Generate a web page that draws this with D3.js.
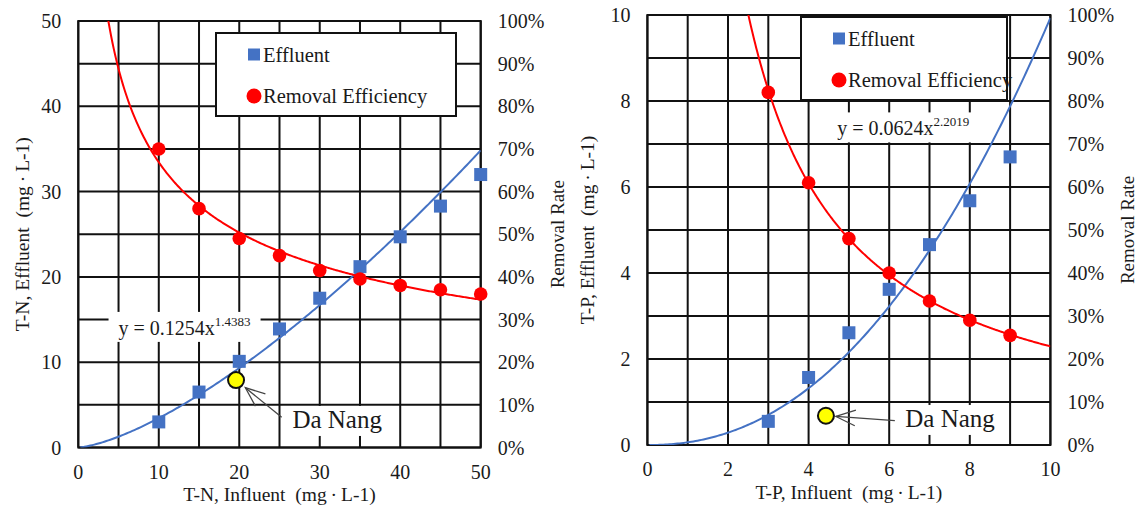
<!DOCTYPE html>
<html><head><meta charset="utf-8">
<script src="https://cdn.jsdelivr.net/npm/d3@7"></script>
<style>
body{margin:0;background:#fff}
text{font-family:"Liberation Serif","Times New Roman",serif;fill:#1a1a1a}
</style>
</head><body>
<svg id="c" width="1142" height="506"></svg>
<script>
// ---------- data ----------
const tnInfluent = [10, 15, 20, 25, 30, 35, 40, 45, 50];
const tnEffluent = [3.0, 6.5, 10.1, 13.9, 17.5, 21.2, 24.7, 28.3, 32.0];
const tnRemoval  = [0.70, 0.56, 0.49, 0.45, 0.415, 0.395, 0.38, 0.37, 0.36];
const tnFitCoef  = [0.1254, 1.4383];
const tnDaNang   = [19.6, 7.9];
const tnXTicks   = [0, 10, 20, 30, 40, 50];
const tnYTicks   = [0, 10, 20, 30, 40, 50];

const tpInfluent = [3, 4, 5, 6, 7, 8, 9];
const tpEffluent = [0.55, 1.57, 2.61, 3.62, 4.66, 5.68, 6.70];
const tpRemoval  = [0.82, 0.61, 0.48, 0.40, 0.335, 0.29, 0.255];
const tpFitCoef  = [0.0624, 2.2019];
const tpDaNang   = [4.43, 0.68];
const tpXTicks   = [0, 2, 4, 6, 8, 10];
const tpYTicks   = [0, 2, 4, 6, 8, 10];

const pctTicks   = [0, 0.1, 0.2, 0.3, 0.4, 0.5, 0.6, 0.7, 0.8, 0.9, 1.0];
const legendLabels = ["Effluent", "Removal Efficiency"];
const labelDaNang = "Da Nang";
const tnXTitle = "T-N, Influent  (mg\u2009\u00B7\u2009L-1)";
const tnYTitle = "T-N, Effluent  (mg\u2009\u00B7\u2009L-1)";
const tpXTitle = "T-P, Influent  (mg\u2009\u00B7\u2009L-1)";
const tpYTitle = "T-P, Effluent  (mg\u2009\u00B7\u2009L-1)";

const BLUE = "#4472C4", RED = "#FF0000", GRID = "#111";

const svg = d3.select("#c");

// least-squares power fit (as a spreadsheet power trendline does)
function powerFit(xs, ys) {
  const lx = xs.map(Math.log), ly = ys.map(Math.log);
  const mx = d3.mean(lx), my = d3.mean(ly);
  let sxy = 0, sxx = 0;
  lx.forEach((v, i) => { sxy += (v - mx) * (ly[i] - my); sxx += (v - mx) * (v - mx); });
  const b = sxy / sxx;
  return [Math.exp(my - b * mx), b];
}

function panel(cfg, idx) {
  const {xs, eff, rem, coef, dn, xDom, yDom, xr, yr, xStep, yStep, xTicks, yTicks} = cfg;
  const x = d3.scaleLinear().domain(xDom).range(xr);
  const y = d3.scaleLinear().domain(yDom).range(yr);
  const y2 = d3.scaleLinear().domain([0, 1]).range(yr);
  const g = svg.append("g");

  const clipId = "clip" + idx;
  g.append("clipPath").attr("id", clipId).append("rect")
    .attr("x", xr[0]).attr("y", yr[1]).attr("width", xr[1] - xr[0]).attr("height", yr[0] - yr[1]);

  // grid
  const gx = d3.range(xDom[0], xDom[1] + 1e-9, xStep);
  const gy = d3.range(yDom[0], yDom[1] + 1e-9, yStep);
  g.append("g").selectAll("line").data(gx).join("line")
    .attr("x1", d => x(d)).attr("x2", d => x(d)).attr("y1", yr[0]).attr("y2", yr[1])
    .attr("stroke", GRID).attr("stroke-width", 2);
  g.append("g").selectAll("line").data(gy).join("line")
    .attr("y1", d => y(d)).attr("y2", d => y(d)).attr("x1", xr[0]).attr("x2", xr[1])
    .attr("stroke", GRID).attr("stroke-width", 2);
  g.append("rect").attr("x", xr[0]).attr("y", yr[1]).attr("width", xr[1] - xr[0])
    .attr("height", yr[0] - yr[1]).attr("fill", "none").attr("stroke", GRID).attr("stroke-width", 2);

  // tick labels
  g.append("g").selectAll("text").data(xTicks).join("text")
    .attr("x", d => x(d)).attr("y", yr[0] + 24).attr("dy", "0.35em")
    .attr("text-anchor", "middle").attr("font-size", 20).text(d => d);
  g.append("g").selectAll("text").data(yTicks).join("text")
    .attr("x", xr[0] - 17).attr("y", d => y(d)).attr("dy", "0.35em")
    .attr("text-anchor", "end").attr("font-size", 20).text(d => d);
  g.append("g").selectAll("text").data(pctTicks).join("text")
    .attr("x", xr[1] + 17).attr("y", d => y2(d)).attr("dy", "0.35em")
    .attr("text-anchor", "start").attr("font-size", 20).text(d => Math.round(d * 100) + "%");

  // axis titles
  const cx = (xr[0] + xr[1]) / 2, cy = (yr[0] + yr[1]) / 2;
  g.append("text").attr("x", cx).attr("y", yr[0] + 47).attr("dy", "0.35em")
    .attr("text-anchor", "middle").attr("font-size", 19.5).style("white-space", "pre")
    .text(cfg.xTitle);
  g.append("text").attr("transform", `translate(${cfg.yTitleX},${cy}) rotate(-90)`)
    .attr("dy", "0.35em").attr("text-anchor", "middle").attr("font-size", 19.5)
    .style("white-space", "pre").text(cfg.yTitle);
  g.append("text").attr("transform", `translate(${xr[1] + 77},${cy}) rotate(-90)`)
    .attr("dy", "0.35em").attr("text-anchor", "middle").attr("font-size", 19)
    .text("Removal Rate");

  // equation label (white box)
  const eq = g.append("text").attr("x", x(cfg.eqPos[0])).attr("y", y(cfg.eqPos[1]))
    .attr("font-size", 20);
  eq.append("tspan").text(`y = ${coef[0]}x`);
  eq.append("tspan").attr("dy", -9).attr("font-size", 13).text(coef[1]);
  const eb = eq.node().getBBox();
  g.insert("rect", () => eq.node()).attr("x", eb.x - 10).attr("y", eb.y - 2)
    .attr("width", eb.width + 20).attr("height", eb.height + 4).attr("fill", "#fff");

  // curves
  const curves = g.append("g").attr("clip-path", `url(#${clipId})`);
  const line = d3.line();
  const bx = d3.range(201).map(i => xDom[0] + (xDom[1] - xDom[0]) * (i + 1) / 201);
  curves.append("path").attr("d", line(bx.map(v => [x(v), y(coef[0] * Math.pow(v, coef[1]))])))
    .attr("fill", "none").attr("stroke", BLUE).attr("stroke-width", 2);
  const rf = powerFit(xs, rem);
  const xRedStart = Math.pow(1.05 / rf[0], 1 / rf[1]);
  const redXs = d3.range(300).map(i => xRedStart + (xDom[1] - xRedStart) * i / 299);
  curves.append("path").attr("d", line(redXs.map(v => [x(v), y2(rf[0] * Math.pow(v, rf[1]))])))
    .attr("fill", "none").attr("stroke", RED).attr("stroke-width", 2);

  // points
  const s = 13;
  g.append("g").selectAll("rect").data(xs).join("rect")
    .attr("x", d => x(d) - s / 2).attr("y", (d, i) => y(eff[i]) - s / 2)
    .attr("width", s).attr("height", s).attr("fill", BLUE);
  g.append("g").selectAll("circle").data(xs).join("circle")
    .attr("cx", d => x(d)).attr("cy", (d, i) => y2(rem[i])).attr("r", 6.8).attr("fill", RED);

  // legend
  const L = cfg.legend;
  g.append("rect").attr("x", L[0]).attr("y", L[1]).attr("width", L[2]).attr("height", L[3])
    .attr("fill", "#fff").attr("stroke", GRID).attr("stroke-width", 2);
  const lx = L[0] + 38;
  g.append("rect").attr("x", lx - 6).attr("y", L[1] + 21.5 - 6).attr("width", 12).attr("height", 12).attr("fill", BLUE);
  g.append("circle").attr("cx", lx).attr("cy", L[1] + 63).attr("r", 7.5).attr("fill", RED);
  g.append("text").attr("x", lx + 9).attr("y", L[1] + 21.5).attr("dy", "0.35em")
    .attr("font-size", 20.5).text(legendLabels[0]);
  g.append("text").attr("x", lx + 9).attr("y", L[1] + 63).attr("dy", "0.35em")
    .attr("font-size", 20.5).text(legendLabels[1]);

  // Da Nang annotation
  const lab = g.append("text").attr("x", x(cfg.dnLabel[0])).attr("y", y(cfg.dnLabel[1]))
    .attr("font-size", 25).text(labelDaNang);
  const lb = lab.node().getBBox();
  g.insert("rect", () => lab.node()).attr("x", lb.x - 10).attr("y", lb.y)
    .attr("width", lb.width + 20).attr("height", lb.height + 3).attr("fill", "#fff");

  const P = [x(dn[0]), y(dn[1])];
  const T = [x(cfg.dnTail[0]), y(cfg.dnTail[1])];
  const dxv = T[0] - P[0], dyv = T[1] - P[1], len = Math.hypot(dxv, dyv);
  const u = [dxv / len, dyv / len];
  const tip = [P[0] + u[0] * cfg.tipOff, P[1] + u[1] * cfg.tipOff];
  const th = 22 * Math.PI / 180, al = 21;
  const rot = (v, a) => [v[0] * Math.cos(a) - v[1] * Math.sin(a), v[0] * Math.sin(a) + v[1] * Math.cos(a)];
  const a1 = rot(u, th), a2 = rot(u, -th);
  g.append("path").attr("d", line([[tip[0] + a1[0] * al, tip[1] + a1[1] * al], tip, [tip[0] + a2[0] * al, tip[1] + a2[1] * al]]))
    .attr("fill", "none").attr("stroke", "#444").attr("stroke-width", 1.3);
  g.append("line").attr("x1", tip[0]).attr("y1", tip[1]).attr("x2", T[0]).attr("y2", T[1])
    .attr("stroke", "#444").attr("stroke-width", 1.3);
  g.append("circle").attr("cx", P[0]).attr("cy", P[1]).attr("r", 8)
    .attr("fill", "#FFFF00").attr("stroke", "#111").attr("stroke-width", 2);
}

panel({
  xs: tnInfluent, eff: tnEffluent, rem: tnRemoval, coef: tnFitCoef, dn: tnDaNang,
  xDom: [0, 50], yDom: [0, 50], xr: [78.3, 480.7], yr: [447.5, 21], xStep: 5, yStep: 5,
  xTicks: tnXTicks, yTicks: tnYTicks,
  xTitle: tnXTitle, yTitle: tnYTitle, yTitleX: 22,
  eqPos: [5.0, 13.2], legend: [216, 33, 240, 83],
  dnLabel: [26.6, 2.29], dnTail: [25.27, 3.54], tipOff: 12
}, 0);

panel({
  xs: tpInfluent, eff: tpEffluent, rem: tpRemoval, coef: tpFitCoef, dn: tpDaNang,
  xDom: [0, 10], yDom: [0, 10], xr: [647.4, 1050.4], yr: [445, 15], xStep: 1, yStep: 1,
  xTicks: tpXTicks, yTicks: tpYTicks,
  xTitle: tpXTitle, yTitle: tpYTitle, yTitleX: 587,
  eqPos: [4.71, 7.2], legend: [801, 17, 206, 83],
  dnLabel: [6.4, 0.42], dnTail: [6.14, 0.565], tipOff: 10
}, 1);
</script>
</body></html>
